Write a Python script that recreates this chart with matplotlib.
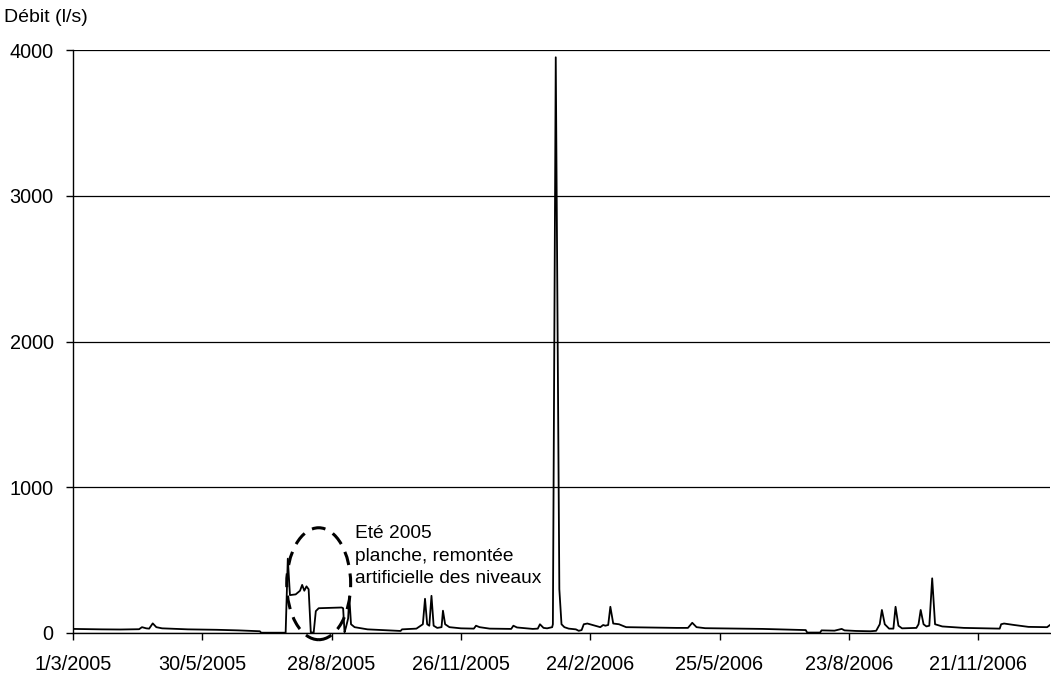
import numpy as np
import matplotlib
matplotlib.use("Agg")
import matplotlib.pyplot as plt
import matplotlib.dates as mdates
from matplotlib.patches import Ellipse
from matplotlib.ticker import FuncFormatter
import datetime as dt

plt.rcParams['font.family'] = ['Liberation Sans', 'DejaVu Sans']

start_date = dt.date(2005, 3, 1)
end_day = 680
tick_step_days = 90

# Day offsets from 1/3/2005 and discharge (l/s)
days = [0, 20, 33, 46, 48, 51, 53, 55.5, 58, 62, 80, 100, 115, 130, 131, 148,
        149.5, 151, 155, 158, 159.5, 161, 162.5, 164, 165.5, 167.5, 169, 171, 187, 188,
        189, 190, 191.5, 192.3, 193.5, 196, 205, 220, 228, 229, 236, 239, 243.5, 245,
        246.5, 248, 249.5, 251, 253.5, 256.5, 257.5, 259, 262, 270, 279, 280.5, 283, 290,
        305, 306.5, 309, 320, 323.5, 325, 327.5, 330, 333.5, 334, 336, 338.5, 340, 342,
        345, 350, 352, 354, 355.5, 358, 365, 367, 369, 370.5, 372.5, 374, 376, 380, 385,
        420, 428, 431, 434, 440, 480, 510, 511, 520, 521, 530, 535, 537, 545, 555, 559,
        561.5, 563, 565, 568, 571, 572.5, 574.5, 577, 587, 588.5, 590, 592, 594, 596, 598,
        600, 605, 620, 645, 646, 648, 655, 665, 678, 680]
debit = [28, 25, 24, 26, 40, 32, 30, 66, 40, 32, 25, 22, 18, 12, 2, 2,
         510, 260, 265, 290, 330, 290, 320, 300, 5, 2, 150, 170, 175, 170,
         5, 40, 100, 250, 60, 40, 25, 18, 14, 25, 28, 30, 60, 235,
         60, 50, 255, 50, 35, 40, 153, 60, 40, 32, 30, 50, 40, 30,
         28, 50, 38, 28, 30, 60, 35, 32, 40, 60, 3950, 300, 60, 40,
         30, 25, 15, 20, 60, 65, 45, 40, 55, 50, 55, 180, 65, 60, 40,
         35, 35, 70, 40, 33, 28, 20, 3, 3, 18, 16, 28, 18, 14, 12, 15,
         60, 158, 60, 30, 30, 180, 50, 32, 35, 60, 158, 60, 45, 50, 375,
         60, 45, 35, 30, 60, 65, 55, 42, 40, 55]

y_ticks = [0, 1000, 2000, 3000, 4000]
annotation_text = "Eté 2005\nplanche, remontée\nartificielle des niveaux"
ylabel_text = "Débit (l/s)"

# ellipse around summer 2005 (center day, center value, width days, height value)
ell_center_day = 171
ell_center_val = 338
ell_width_days = 44.5
ell_height_val = 768

base = np.datetime64(start_date.isoformat())
dates = base + np.array([np.timedelta64(int(round(d * 24)), 'h') for d in days])

fig = plt.figure(figsize=(10.51, 6.78), dpi=100)
ax = fig.add_axes([73/1051, 1 - 633/678, (1050 - 73)/1051, (633 - 50)/678])

ax.plot(dates, debit, color='black', lw=1.3, zorder=3)

ax.set_ylim(0, 4000)
ax.set_xlim(base, base + np.timedelta64(end_day, 'D'))
ax.set_yticks(y_ticks)
ax.yaxis.grid(True, color='black', lw=0.9)
ax.set_axisbelow(True)

xt = [base + np.timedelta64(k, 'D') for k in range(0, end_day, tick_step_days)]
ax.set_xticks(xt)

def fmt(x, pos):
    d = mdates.num2date(x)
    return f"{d.day}/{d.month}/{d.year}"
ax.xaxis.set_major_formatter(FuncFormatter(fmt))

for s in ['top', 'right']:
    ax.spines[s].set_visible(False)
for s in ['left', 'bottom']:
    ax.spines[s].set_color('black')
    ax.spines[s].set_linewidth(1.0)

ax.tick_params(axis='x', direction='out', length=5, width=1, pad=11, labelsize=14.3)
ax.tick_params(axis='y', direction='out', length=5, width=1, pad=9, labelsize=14.3)

cx = mdates.date2num(base) + ell_center_day
ell = Ellipse((cx, ell_center_val), ell_width_days, ell_height_val, fill=False,
              edgecolor='black', lw=2.2, linestyle=(0, (4.5, 2.8)), clip_on=False, zorder=4)
ax.add_patch(ell)

ax.text(mdates.date2num(base) + 196.5, 740, annotation_text, fontsize=13.8,
        ha='left', va='top', linespacing=1.42)

fig.text(4/1051, 1 - 18/678, ylabel_text, fontsize=14, ha='left', va='center')

fig.savefig("out.png", dpi=100)
